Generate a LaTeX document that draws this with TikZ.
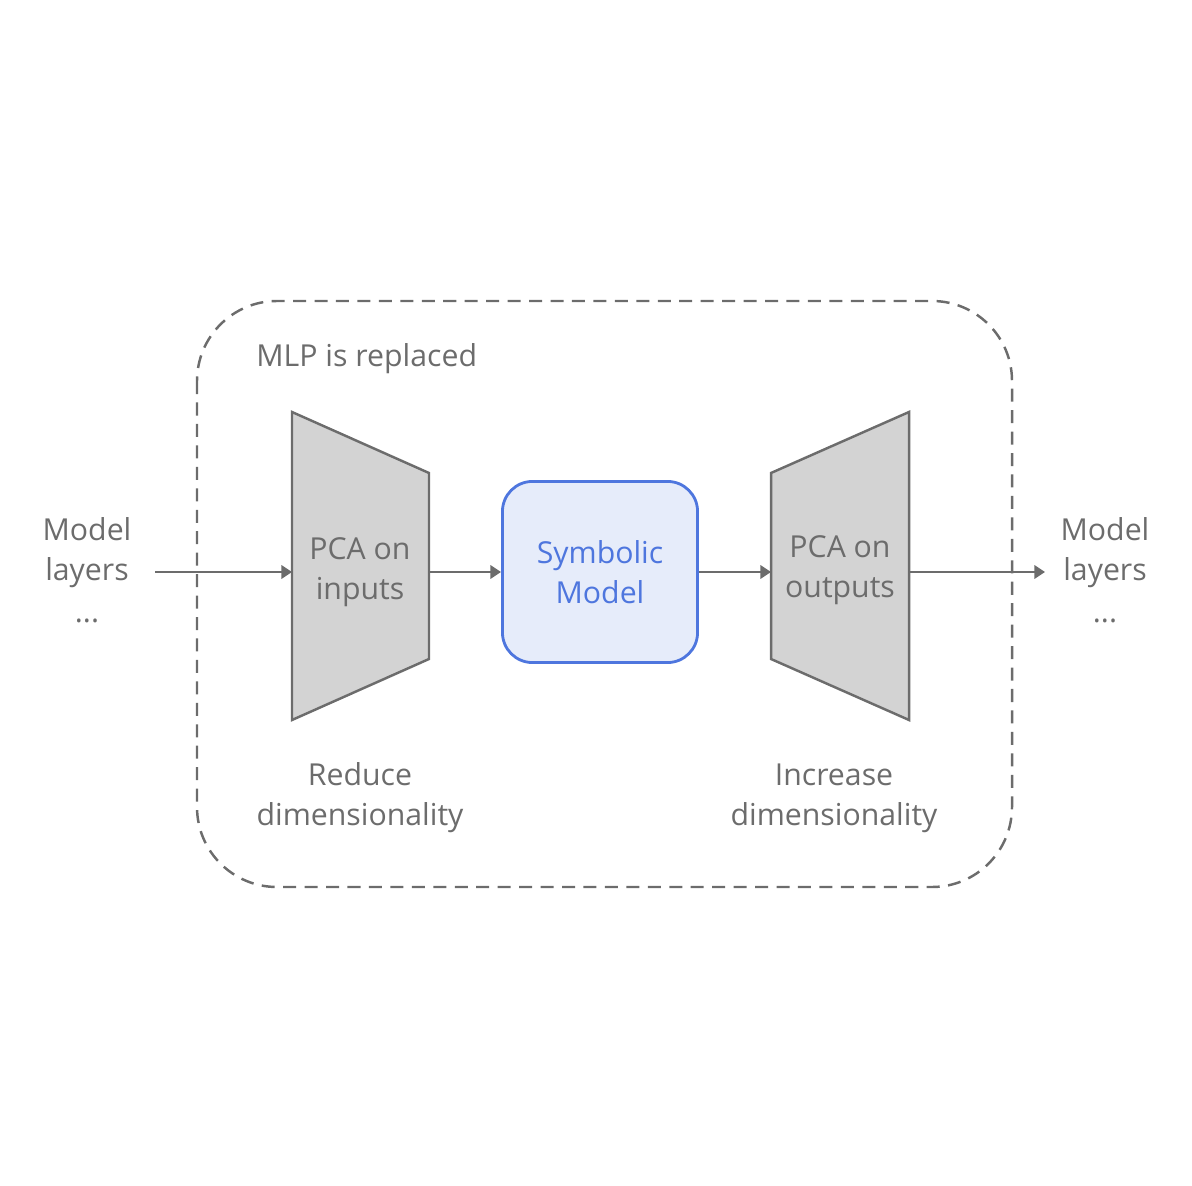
\documentclass[tikz,border=0pt]{standalone}
\usepackage{fontspec}
\setmainfont{Open Sans}
\usepackage{tikz}
\usetikzlibrary{arrows.meta, positioning}

\definecolor{txtgray}{RGB}{108,108,108}
\definecolor{linegray}{RGB}{108,108,108}
\definecolor{pcafill}{RGB}{211,211,211}
\definecolor{symblue}{RGB}{78,118,222}
\definecolor{symfill}{RGB}{230,236,250}

\begin{document}
\begin{tikzpicture}[x=0.01cm,y=-0.01cm,>=Stealth,
    lbl/.style={txtgray,font=\fontsize{8.6}{11.4}\selectfont,align=center},
    flow/.style={->,linegray,line width=0.6pt,
                 >={Triangle[length=3pt,width=3.8pt]}},
    pca/.style={draw=linegray,fill=pcafill,line width=0.7pt,line join=miter}]
  \useasboundingbox (0,0) rectangle (1192,1186);
  % replaced block
  \draw[linegray,line width=0.7pt,dash pattern=on 3.7pt off 2.4pt,
        rounded corners=0.8cm] (197,301) rectangle (1012,887);
  \node[lbl,anchor=west] (title) at (244,359) {MLP is replaced};
  % PCA on inputs (narrowing)
  \draw[pca] (292,412) -- (429,473) -- (429,659) -- (292,720) -- cycle;
  \coordinate (pcainL) at (292,572);
  \coordinate (pcainR) at (429,572);
  \node[lbl] (pcain) at (360,572) {PCA on\\inputs};
  % symbolic model
  \node[draw=symblue,fill=symfill,line width=0.8pt,rounded corners=0.3cm,
        minimum width=1.95cm,minimum height=1.81cm,
        text=symblue,font=\fontsize{8.6}{11.4}\selectfont,align=center]
        (sym) at (600,572) {Symbolic\\Model};
  % PCA on outputs (widening)
  \draw[pca] (771,473) -- (909,412) -- (909,720) -- (771,659) -- cycle;
  \coordinate (pcaoutL) at (771,572);
  \coordinate (pcaoutR) at (909,572);
  \node[lbl] (pcaout) at (840,570) {PCA on\\outputs};
  % outer layers
  \node[lbl] (layin) at (87,570) {Model\\layers\\[0.5pt]...};
  \node[lbl] (layout) at (1105,570) {Model\\layers\\[0.5pt]...};
  \coordinate (inS) at (155,572);
  \coordinate (outE) at (1045,572);
  % captions
  \node[lbl] (reduce) at (360,798) {Reduce\\dimensionality};
  \node[lbl] (increase) at (834,798) {Increase\\dimensionality};
  % data flow
  \draw[flow] (inS) -- (pcainL);
  \draw[flow] (pcainR) -- (sym.west);
  \draw[flow] (sym.east) -- (pcaoutL);
  \draw[flow] (pcaoutR) -- (outE);
\end{tikzpicture}
\end{document}
